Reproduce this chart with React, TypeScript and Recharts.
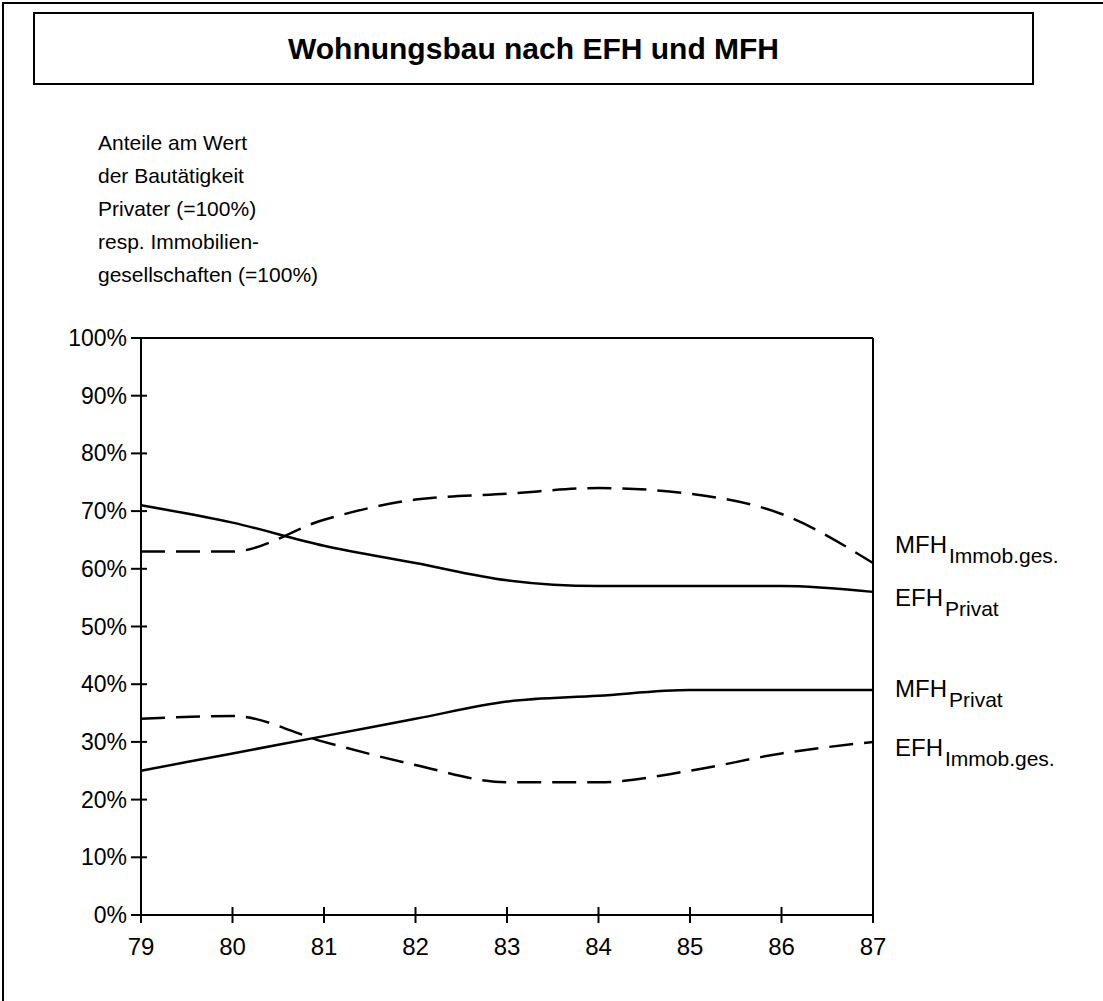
import { LineChart, Line, XAxis, YAxis, ReferenceLine } from "recharts";

const years = [79, 80, 81, 82, 83, 84, 85, 86, 87];
const efhPrivat = [71, 68, 64, 61, 58, 57, 57, 57, 56];
const mfhPrivat = [25, 28, 31, 34, 37, 38, 39, 39, 39];
const mfhImmob = [63, 63, 68.5, 72, 73, 74, 73, 69.5, 61];
const efhImmob = [34, 34.5, 30, 26, 23, 23, 25, 28, 30];
const yTicks = [0, 10, 20, 30, 40, 50, 60, 70, 80, 90, 100];

const yLabelLines = [
  "Anteile am Wert",
  "der Bautätigkeit",
  "Privater (=100%)",
  "resp. Immobilien-",
  "gesellschaften (=100%)",
];

const data = years.map((y, i) => ({
  year: y,
  efhPrivat: efhPrivat[i],
  mfhPrivat: mfhPrivat[i],
  mfhImmob: mfhImmob[i],
  efhImmob: efhImmob[i],
}));

const FONT = "'Liberation Sans', Arial, Helvetica, sans-serif";

const YTick = (props: any) => {
  const { x, y, payload } = props;
  return (
    <g>
      <line x1={x - 10} x2={x + 6} y1={y} y2={y} stroke="#000" strokeWidth={2} />
      <text x={x - 14} y={y} dy={8} textAnchor="end" fontSize={23} fontFamily={FONT} fill="#000">
        {payload.value}%
      </text>
    </g>
  );
};

const XTick = (props: any) => {
  const { x, y, payload } = props;
  return (
    <g>
      <line x1={x} x2={x} y1={y - 8} y2={y + 8} stroke="#000" strokeWidth={2} />
      <text x={x} y={y} dy={40} textAnchor="middle" fontSize={24} fontFamily={FONT} fill="#000">
        {payload.value}
      </text>
    </g>
  );
};

const sideLabel = (main: string, sub: string, top: number) => (
  <div
    style={{
      position: "absolute",
      left: 895,
      top,
      fontFamily: FONT,
      fontSize: 24,
      color: "#000",
      whiteSpace: "nowrap",
    }}
  >
    {main}
    <span style={{ fontSize: 21, position: "relative", top: 10, marginLeft: 2 }}>{sub}</span>
  </div>
);

export default function App() {
  return (
    <div
      style={{
        position: "absolute",
        left: 0,
        top: 0,
        width: 1103,
        height: 1001,
        background: "#fff",
        overflow: "hidden",
      }}
    >
      {/* outer frame */}
      <div
        style={{
          position: "absolute",
          left: 2,
          top: 2,
          width: 1103,
          height: 1001,
          borderTop: "2px solid #000",
          borderLeft: "2px solid #000",
        }}
      />
      {/* title box */}
      <div
        style={{
          position: "absolute",
          left: 33,
          top: 12,
          width: 997,
          height: 69,
          border: "2px solid #000",
          display: "flex",
          alignItems: "center",
          justifyContent: "center",
          fontFamily: FONT,
          fontWeight: "bold",
          fontSize: 30,
          color: "#000",
        }}
      >
        Wohnungsbau nach EFH und MFH
      </div>
      {/* y-axis description */}
      <div
        style={{
          position: "absolute",
          left: 98,
          top: 126,
          fontFamily: FONT,
          fontSize: 21,
          lineHeight: "33px",
          color: "#000",
        }}
      >
        {yLabelLines.map((t) => (
          <div key={t}>{t}</div>
        ))}
      </div>

      <div style={{ position: "absolute", left: 0, top: 0 }}>
        <LineChart
          width={1103}
          height={1001}
          data={data}
          margin={{ top: 338, right: 230, left: 81, bottom: 46 }}
        >
          <XAxis
            dataKey="year"
            type="number"
            domain={[79, 87]}
            ticks={years}
            tick={<XTick />}
            tickLine={false}
            tickSize={0}
            tickMargin={0}
            height={40}
            axisLine={{ stroke: "#000", strokeWidth: 2 }}
          />
          <YAxis
            domain={[0, 100]}
            ticks={yTicks}
            tick={<YTick />}
            tickLine={false}
            tickSize={0}
            tickMargin={0}
            width={60}
            axisLine={{ stroke: "#000", strokeWidth: 2 }}
          />
          <ReferenceLine y={100} stroke="#000" strokeWidth={2} />
          <ReferenceLine x={87} stroke="#000" strokeWidth={2} />
          <Line
            dataKey="efhPrivat"
            type="monotone"
            stroke="#000"
            strokeWidth={2.5}
            dot={false}
            isAnimationActive={false}
          />
          <Line
            dataKey="mfhPrivat"
            type="monotone"
            stroke="#000"
            strokeWidth={2.5}
            dot={false}
            isAnimationActive={false}
          />
          <Line
            dataKey="mfhImmob"
            type="monotone"
            stroke="#000"
            strokeWidth={2.5}
            strokeDasharray="24 11"
            dot={false}
            isAnimationActive={false}
          />
          <Line
            dataKey="efhImmob"
            type="monotone"
            stroke="#000"
            strokeWidth={2.5}
            strokeDasharray="24 11"
            dot={false}
            isAnimationActive={false}
          />
        </LineChart>
      </div>

      {sideLabel("MFH", "Immob.ges.", 531)}
      {sideLabel("EFH", "Privat", 584)}
      {sideLabel("MFH", "Privat", 675)}
      {sideLabel("EFH", "Immob.ges.", 734)}
    </div>
  );
}
